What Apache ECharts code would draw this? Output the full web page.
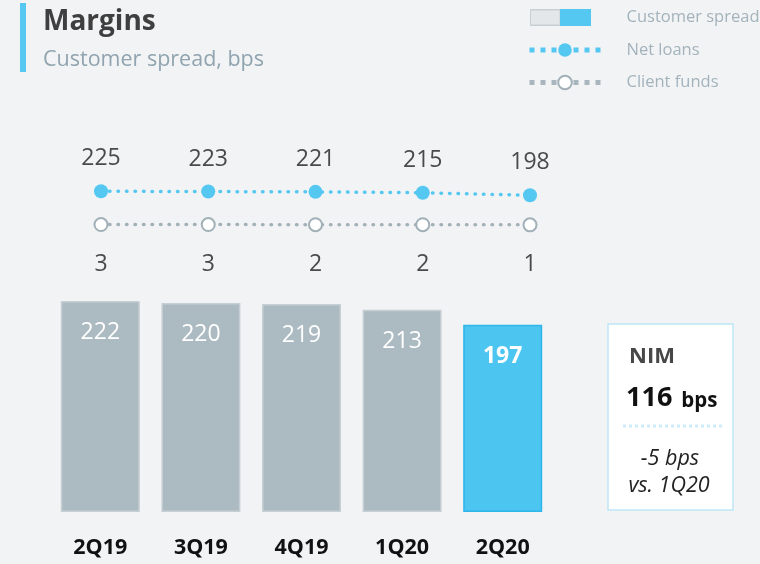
<!DOCTYPE html>
<html>
<head>
<meta charset="utf-8">
<script src="https://cdn.jsdelivr.net/npm/echarts@6/dist/echarts.min.js"></script>
<style>
html,body{margin:0;padding:0;background:#f2f3f5;}
#c{width:760px;height:564px;}
</style>
</head>
<body>
<div id="c"></div>
<script>
const categories = ['2Q19', '3Q19', '4Q19', '1Q20', '2Q20'];
const customerSpread = [222, 220, 219, 213, 197];
const netLoans = [225, 223, 221, 215, 198];
const clientFunds = [3, 3, 2, 2, 1];
const nimValue = 116;
const nimChange = -5;
const nimCompare = '1Q20';

const FONT = '"Open Sans", "Noto Sans", sans-serif';
const GRAY_BAR = '#acbac1';
const GRAY_BORDER = '#c6cfd4';
const BLUE = '#4cc5f0';
const BLUE_BORDER = '#2db6e9';
const NET_COLOR = '#55c8f2';
const CF_COLOR = '#a2b0b8';

const lastIdx = customerSpread.length - 1;
const barData = customerSpread.map((v, i) => i === lastIdx ? {
  value: v,
  itemStyle: { color: BLUE, borderColor: BLUE_BORDER, borderWidth: 1.5 },
  label: { fontWeight: 'bold' }
} : v);

const barIconSvg = "<svg xmlns='http://www.w3.org/2000/svg' width='71' height='17' viewBox='0 0 71 17' preserveAspectRatio='none'>" +
  "<rect x='0.75' y='0.75' width='30' height='15.5' fill='#e3e7ea' stroke='#c8cfd3' stroke-width='1.5'/>" +
  "<rect x='30.5' y='0' width='31' height='17' fill='#55c8f2'/></svg>";
const barIcon = 'image://data:image/svg+xml;charset=utf-8,' + encodeURIComponent(barIconSvg);

const chart = echarts.init(document.getElementById('c'), null, { renderer: 'canvas' });
chart.setOption({
  backgroundColor: '#f2f3f5',
  animation: false,
  textStyle: { fontFamily: FONT },
  title: {
    text: 'Margins',
    subtext: 'Customer spread, bps',
    left: 38,
    top: 3,
    itemGap: 13,
    textStyle: { fontFamily: FONT, fontSize: 28, fontWeight: 'bold', color: '#3f3f3f' },
    subtextStyle: { fontFamily: FONT, fontSize: 21.5, color: '#8fa4af' }
  },
  legend: {
    orient: 'vertical',
    left: 527,
    top: 9,
    padding: 0,
    itemWidth: 71,
    itemHeight: 17,
    itemGap: 15.5,
    selectedMode: false,
    textStyle: { fontFamily: FONT, fontSize: 16.5, color: '#a3b3bc', padding: [0, 0, 0, 21] },
    data: [
      { name: 'Customer spread', icon: barIcon },
      { name: 'Net loans', lineStyle: { width: 5, type: [5, 6], cap: 'butt', color: NET_COLOR } },
      { name: 'Client funds', lineStyle: { width: 5, type: [5, 6], cap: 'butt', color: '#aab6bd' } }
    ]
  },
  grid: [
    { left: 50, right: 207, top: 284, bottom: 52 },
    { left: 101, right: 230, top: 189, height: 36 }
  ],
  xAxis: [
    {
      type: 'category', gridIndex: 0, data: categories,
      axisLine: { show: false }, axisTick: { show: false },
      axisLabel: { margin: 25, fontFamily: FONT, fontSize: 21.5, fontWeight: 'bold', color: '#111' }
    },
    {
      type: 'category', gridIndex: 1, data: categories, boundaryGap: false, show: false
    }
  ],
  yAxis: [
    { type: 'value', gridIndex: 0, min: 0, max: 240, show: false },
    { type: 'value', gridIndex: 1, min: 0, max: 240, show: false }
  ],
  series: [
    {
      name: 'Customer spread',
      type: 'bar',
      xAxisIndex: 0, yAxisIndex: 0,
      data: barData,
      barWidth: 79,
      itemStyle: { color: GRAY_BAR, borderColor: GRAY_BORDER, borderWidth: 1.5 },
      label: {
        show: true, position: 'insideTop', distance: 20,
        fontFamily: FONT, fontSize: 23, color: '#ffffff'
      }
    },
    {
      name: 'Net loans',
      type: 'line',
      xAxisIndex: 1, yAxisIndex: 1,
      data: netLoans,
      symbol: 'circle',
      symbolSize: 14,
      itemStyle: { color: NET_COLOR },
      lineStyle: { color: NET_COLOR, width: 3.5, type: [0.5, 8], cap: 'round' },
      label: {
        show: true, position: 'top', distance: 14,
        fontFamily: FONT, fontSize: 23, color: '#4a4a4a'
      },
      z: 3
    },
    {
      name: 'Client funds',
      type: 'line',
      xAxisIndex: 1, yAxisIndex: 1,
      data: clientFunds,
      symbol: 'circle',
      symbolSize: 13,
      itemStyle: { color: '#ffffff', borderColor: CF_COLOR, borderWidth: 2 },
      lineStyle: { color: CF_COLOR, width: 3.5, type: [0.5, 8], cap: 'round' },
      label: {
        show: true, position: 'bottom', distance: 21,
        fontFamily: FONT, fontSize: 23, color: '#4a4a4a'
      },
      z: 3
    }
  ],
  graphic: [
    { type: 'rect', shape: { x: 20, y: 3, width: 6, height: 69 }, style: { fill: '#56c9f3' } },
    { type: 'rect', shape: { x: 608, y: 324, width: 125, height: 186 }, style: { fill: '#ffffff', stroke: '#bfe6f6', lineWidth: 1.5 } },
    { type: 'text', x: 629, y: 357, style: { text: 'NIM', font: 'bold 22px ' + FONT, fill: '#474747', verticalAlign: 'middle' } },
    { type: 'text', x: 626, y: 398, style: {
        text: '{a|' + nimValue + '}{b|bps}', verticalAlign: 'middle',
        rich: {
          a: { fontFamily: FONT, fontSize: 27, fontWeight: 'bold', fill: '#111', verticalAlign: 'bottom', padding: [0, 9, 0, 0] },
          b: { fontFamily: FONT, fontSize: 20.5, fontWeight: 'bold', fill: '#111', verticalAlign: 'bottom' }
        }
    } },
    { type: 'line', shape: { x1: 623, y1: 426, x2: 722, y2: 426 }, style: { stroke: '#cdedfa', lineWidth: 3, lineDash: [3, 3] } },
    { type: 'text', x: 670, y: 459, style: { text: nimChange + ' bps', font: 'italic 21.5px ' + FONT, fill: '#222', align: 'center', verticalAlign: 'middle' } },
    { type: 'text', x: 669, y: 486, style: { text: 'vs. ' + nimCompare, font: 'italic 21.5px ' + FONT, fill: '#222', align: 'center', verticalAlign: 'middle' } }
  ]
});
</script>
</body>
</html>
